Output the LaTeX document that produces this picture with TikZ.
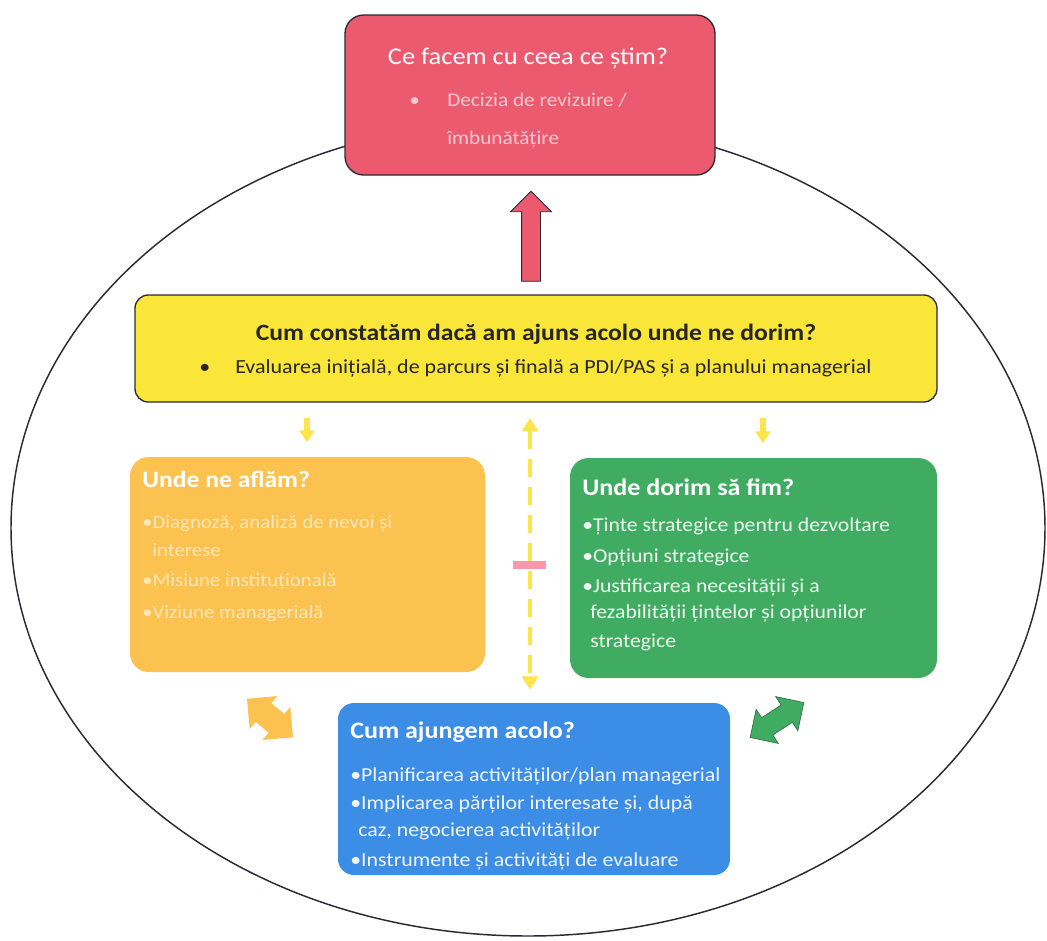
\documentclass[tikz,border=0pt]{standalone}
\usepackage{fontspec}
\setmainfont{Carlito}[FakeStretch=1.1]
\usetikzlibrary{shapes.arrows,arrows.meta}
\definecolor{cred}{HTML}{EB5A6E}
\definecolor{credtxt}{HTML}{F7C9D2}
\definecolor{cyel}{HTML}{FAE539}
\definecolor{cyelarr}{HTML}{FCE54A}
\definecolor{corg}{HTML}{FBC24F}
\definecolor{corgtxt}{HTML}{FDE6B8}
\definecolor{cgrn}{HTML}{40AC62}
\definecolor{cgrntxt}{HTML}{EEF7F0}
\definecolor{cblu}{HTML}{3B8DE6}
\definecolor{cblutxt}{HTML}{F0F5FC}
\definecolor{cpink}{HTML}{F27890}
\definecolor{cline}{HTML}{2A2A35}
\newcommand\fsz[1]{\fontsize{#1}{#1}\selectfont}
\tikzset{
  panel/.style={rounded corners=14pt, inner sep=0pt},
  txt/.style={anchor=base west, inner sep=0pt},
  ctxt/.style={anchor=base, inner sep=0pt},
}
\begin{document}
\begin{tikzpicture}[x=0.75pt,y=-0.75pt]
\useasboundingbox (0,0) rectangle (1047,940);
% big ellipse
\draw[line width=1.1pt, cline] (528,528) ellipse [x radius=517, y radius=408];

% panels
\node[panel, draw=cline, line width=1pt, fill=cred, minimum width=277.5pt, minimum height=120pt] (red) at (530,95) {};
\node[panel, draw=cline, line width=1pt, fill=cyel, rounded corners=10pt, minimum width=601.5pt, minimum height=80.25pt] (yellow) at (536,348.5) {};
\node[panel, fill=corg, minimum width=266.25pt, minimum height=161.25pt] (orange) at (307.5,564.5) {};
\node[panel, fill=cgrn, minimum width=275.25pt, minimum height=165pt] (green) at (753.5,568) {};
\node[panel, fill=cblu, rounded corners=12pt, minimum width=294pt, minimum height=129pt] (blue) at (534,789) {};

% red box text
\node[ctxt, text=white, font=\fsz{18pt}] (redt) at (528,64) {Ce facem cu ceea ce știm?};
\node[txt, text=credtxt, font=\fsz{14.5pt}] (redb) at (409,106) {•};
\node[txt, text=credtxt, font=\fsz{14.5pt}] (redl1) at (447,106) {Decizia de revizuire /};
\node[txt, text=credtxt, font=\fsz{14.5pt}] (redl2) at (447,144) {îmbunătățire};

% yellow box text
\node[ctxt, text=black!85, font=\bfseries\fsz{17.5pt}] (yelt) at (536,340) {Cum constatăm dacă am ajuns acolo unde ne dorim?};
\node[txt, text=black!85, font=\fsz{15pt}] (yelb) at (199,373) {•};
\node[txt, text=black!85, font=\fsz{15pt}] (yell) at (235,373) {Evaluarea inițială, de parcurs și finală a PDI/PAS și a planului managerial};

% orange box text
\node[txt, text=white, font=\bfseries\fsz{17.5pt}] (orgt) at (142,487) {Unde ne aflăm?};
\node[txt, text=corgtxt, font=\fsz{14.2pt}] (org1) at (142,528) {•Diagnoză, analiză de nevoi și};
\node[txt, text=corgtxt, font=\fsz{14.2pt}] (org2) at (152,556) {interese};
\node[txt, text=corgtxt, font=\fsz{14.2pt}] (org3) at (142,586) {•Misiune instituțională};
\node[txt, text=corgtxt, font=\fsz{14.2pt}] (org4) at (142,618) {•Viziune managerială};

% green box text
\node[txt, text=white, font=\bfseries\fsz{17.8pt}] (grnt) at (582,495) {Unde dorim să fim?};
\node[txt, text=cgrntxt, font=\fsz{14.8pt}] (grn1) at (582,531) {•Ținte strategice pentru dezvoltare};
\node[txt, text=cgrntxt, font=\fsz{14.8pt}] (grn2) at (582,562) {•Opțiuni strategice};
\node[txt, text=cgrntxt, font=\fsz{14.8pt}] (grn3) at (582,592) {•Justificarea necesității și a};
\node[txt, text=cgrntxt, font=\fsz{14.8pt}] (grn4) at (590,618) {fezabilității țintelor și opțiunilor};
\node[txt, text=cgrntxt, font=\fsz{14.8pt}] (grn5) at (590,647) {strategice};

% blue box text
\node[txt, text=white, font=\bfseries\fsz{17.75pt}] (blut) at (350,738) {Cum ajungem acolo?};
\node[txt, text=cblutxt, font=\fsz{14.9pt}] (blu1) at (350,781) {•Planificarea activităților/plan managerial};
\node[txt, text=cblutxt, font=\fsz{14.9pt}] (blu2) at (350,809) {•Implicarea părților interesate și, după};
\node[txt, text=cblutxt, font=\fsz{14.9pt}] (blu3) at (358,836) {caz, negocierea activităților};
\node[txt, text=cblutxt, font=\fsz{14.9pt}] (blu4) at (350,866) {•Instrumente și activități de evaluare};

% red up arrow
\node[single arrow, draw=cline, line width=0.6pt, fill=cred, rotate=90, inner xsep=0pt, inner ysep=6.75pt,
      minimum height=67.5pt, single arrow head extend=8.25pt] (uparr) at (531,241) {};

% small yellow arrows
\coordinate (ya1) at (307,402);
\coordinate (yb1) at (307,457);
\coordinate (ya2) at (763,402);
\coordinate (yb2) at (763,458);
\draw[cyelarr, line width=4.5pt, shorten <=12pt, shorten >=11pt, -{Triangle[length=9pt, width=11pt]}] (ya1) -- (yb1);
\draw[cyelarr, line width=4.5pt, shorten <=12pt, shorten >=11pt, -{Triangle[length=9pt, width=11pt]}] (ya2) -- (yb2);

% dashed double arrow
\coordinate (da) at (530,402);
\coordinate (db) at (530,703);
\draw[cyelarr, line width=3.5pt, dash pattern=on 14pt off 7pt, shorten <=12pt, shorten >=10pt,
      {Triangle[length=10pt, width=12pt]}-{Triangle[length=10pt, width=12pt]}] (da) -- (db);
\coordinate (pa) at (513,565);
\coordinate (pb) at (546,565);
\draw[cpink, line width=6pt, opacity=0.75] (pa) -- (pb);

% double arrows
\node[double arrow, fill=corg, rotate=-40, inner xsep=0pt, inner ysep=9pt, minimum height=45pt,
      double arrow head extend=7pt] (oarr) at (270,718) {};
\node[double arrow, draw=cline!50!cgrn, line width=0.5pt, fill=cgrn, rotate=33, inner xsep=0pt, inner ysep=7.5pt, minimum height=48pt,
      double arrow head extend=7.5pt] (garr) at (777,720) {};
\end{tikzpicture}
\end{document}
